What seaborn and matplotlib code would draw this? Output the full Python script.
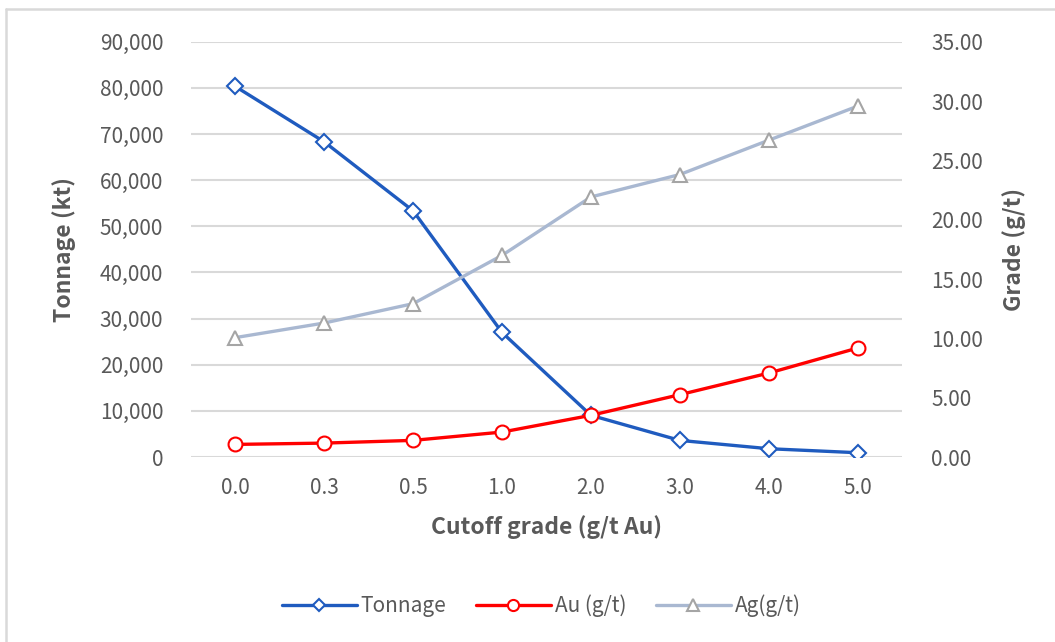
import matplotlib
matplotlib.use('Agg')
import matplotlib.pyplot as plt
import pandas as pd
import seaborn as sns
from matplotlib.lines import Line2D
from matplotlib.ticker import FuncFormatter, MultipleLocator

# Dados
cutoff = ['0.0', '0.3', '0.5', '1.0', '2.0', '3.0', '4.0', '5.0']
tonnage = [80300, 68300, 53350, 27000, 9050, 3620, 1820, 950]
au_grade = [1.07, 1.18, 1.41, 2.11, 3.52, 5.26, 7.08, 9.19]
ag_grade = [10.07, 11.30, 12.93, 17.00, 21.92, 23.81, 26.70, 29.57]

df = pd.DataFrame({'cutoff': cutoff, 'tonnage': tonnage,
                   'au': au_grade, 'ag': ag_grade})

sns.set_theme(style='white')
plt.rcParams['font.family'] = ['Noto Sans CJK SC', 'DejaVu Sans']

blue = '#1F5BBF'
red = '#FF0000'
ag_line = '#A9B8D1'
ag_mark = '#A5A5A5'
grid_c = '#D9D9D9'
text_c = '#595959'

fig = plt.figure(figsize=(10.55, 6.42), dpi=100)
ax = fig.add_axes([0.181, 0.288, 0.674, 0.647])
ax2 = ax.twinx()

# Tonelagem no eixo esquerdo
sns.lineplot(data=df, x='cutoff', y='tonnage', ax=ax, color=blue, linewidth=2.4,
             marker='D', markersize=8, markerfacecolor='white',
             markeredgecolor=blue, markeredgewidth=1.5, sort=False, zorder=3)

# Teores no eixo direito
sns.lineplot(data=df, x='cutoff', y='au', ax=ax2, color=red, linewidth=2.4,
             marker='o', markersize=10, markerfacecolor='white',
             markeredgecolor=red, markeredgewidth=1.5, sort=False, zorder=3)
sns.lineplot(data=df, x='cutoff', y='ag', ax=ax2, color=ag_line, linewidth=2.4,
             marker='^', markersize=10, markerfacecolor='white',
             markeredgecolor=ag_mark, markeredgewidth=1.5, sort=False, zorder=3)

ax.set_xlim(-0.5, 7.5)
ax.set_ylim(0, 90000)
ax2.set_ylim(0, 35)
ax.yaxis.set_major_locator(MultipleLocator(10000))
ax2.yaxis.set_major_locator(MultipleLocator(5))
ax.yaxis.set_major_formatter(FuncFormatter(lambda v, p: f'{v:,.0f}'))
ax2.yaxis.set_major_formatter(FuncFormatter(lambda v, p: f'{v:.2f}'))

ax.grid(axis='y', color=grid_c, linewidth=1.5)
ax.set_axisbelow(True)
ax2.grid(False)
for a in (ax, ax2):
    for s in a.spines.values():
        s.set_visible(False)
    a.tick_params(length=0, labelsize=15, labelcolor=text_c)
ax.tick_params(axis='y', pad=20)
ax2.tick_params(axis='y', pad=21)
ax.tick_params(axis='x', pad=14)

ax.set_xlabel('Cutoff grade (g/t Au)', fontsize=16.5, fontweight='bold',
              color=text_c, labelpad=12)
ax.set_ylabel('Tonnage (kt)', fontsize=16.5, fontweight='bold', color=text_c,
              labelpad=17)
ax2.set_ylabel('Grade (g/t)', fontsize=16.5, fontweight='bold', color=text_c,
               labelpad=14)

# Legenda na parte inferior
handles = [
    Line2D([], [], color=blue, linewidth=2.4, marker='D', markersize=6,
           markerfacecolor='white', markeredgecolor=blue, markeredgewidth=1.5),
    Line2D([], [], color=red, linewidth=2.4, marker='o', markersize=8,
           markerfacecolor='white', markeredgecolor=red, markeredgewidth=1.5),
    Line2D([], [], color=ag_line, linewidth=2.4, marker='^', markersize=8,
           markerfacecolor='white', markeredgecolor=ag_mark, markeredgewidth=1.5),
]
fig.legend(handles, ['Tonnage', 'Au (g/t)', 'Ag(g/t)'], loc='center',
           bbox_to_anchor=(0.513, 0.056), ncol=3, frameon=False,
           fontsize=15, labelcolor=text_c, handlelength=3.6,
           columnspacing=1.4, handletextpad=0.2)

# Moldura do gráfico (apenas topo e esquerda visíveis)
fig.add_artist(Line2D([0.006, 1.0], [0.986, 0.986], color=grid_c, linewidth=1.8,
                      transform=fig.transFigure))
fig.add_artist(Line2D([0.006, 0.006], [0.0, 0.986], color=grid_c, linewidth=1.8,
                      transform=fig.transFigure))

fig.savefig('out.png', dpi=100)
